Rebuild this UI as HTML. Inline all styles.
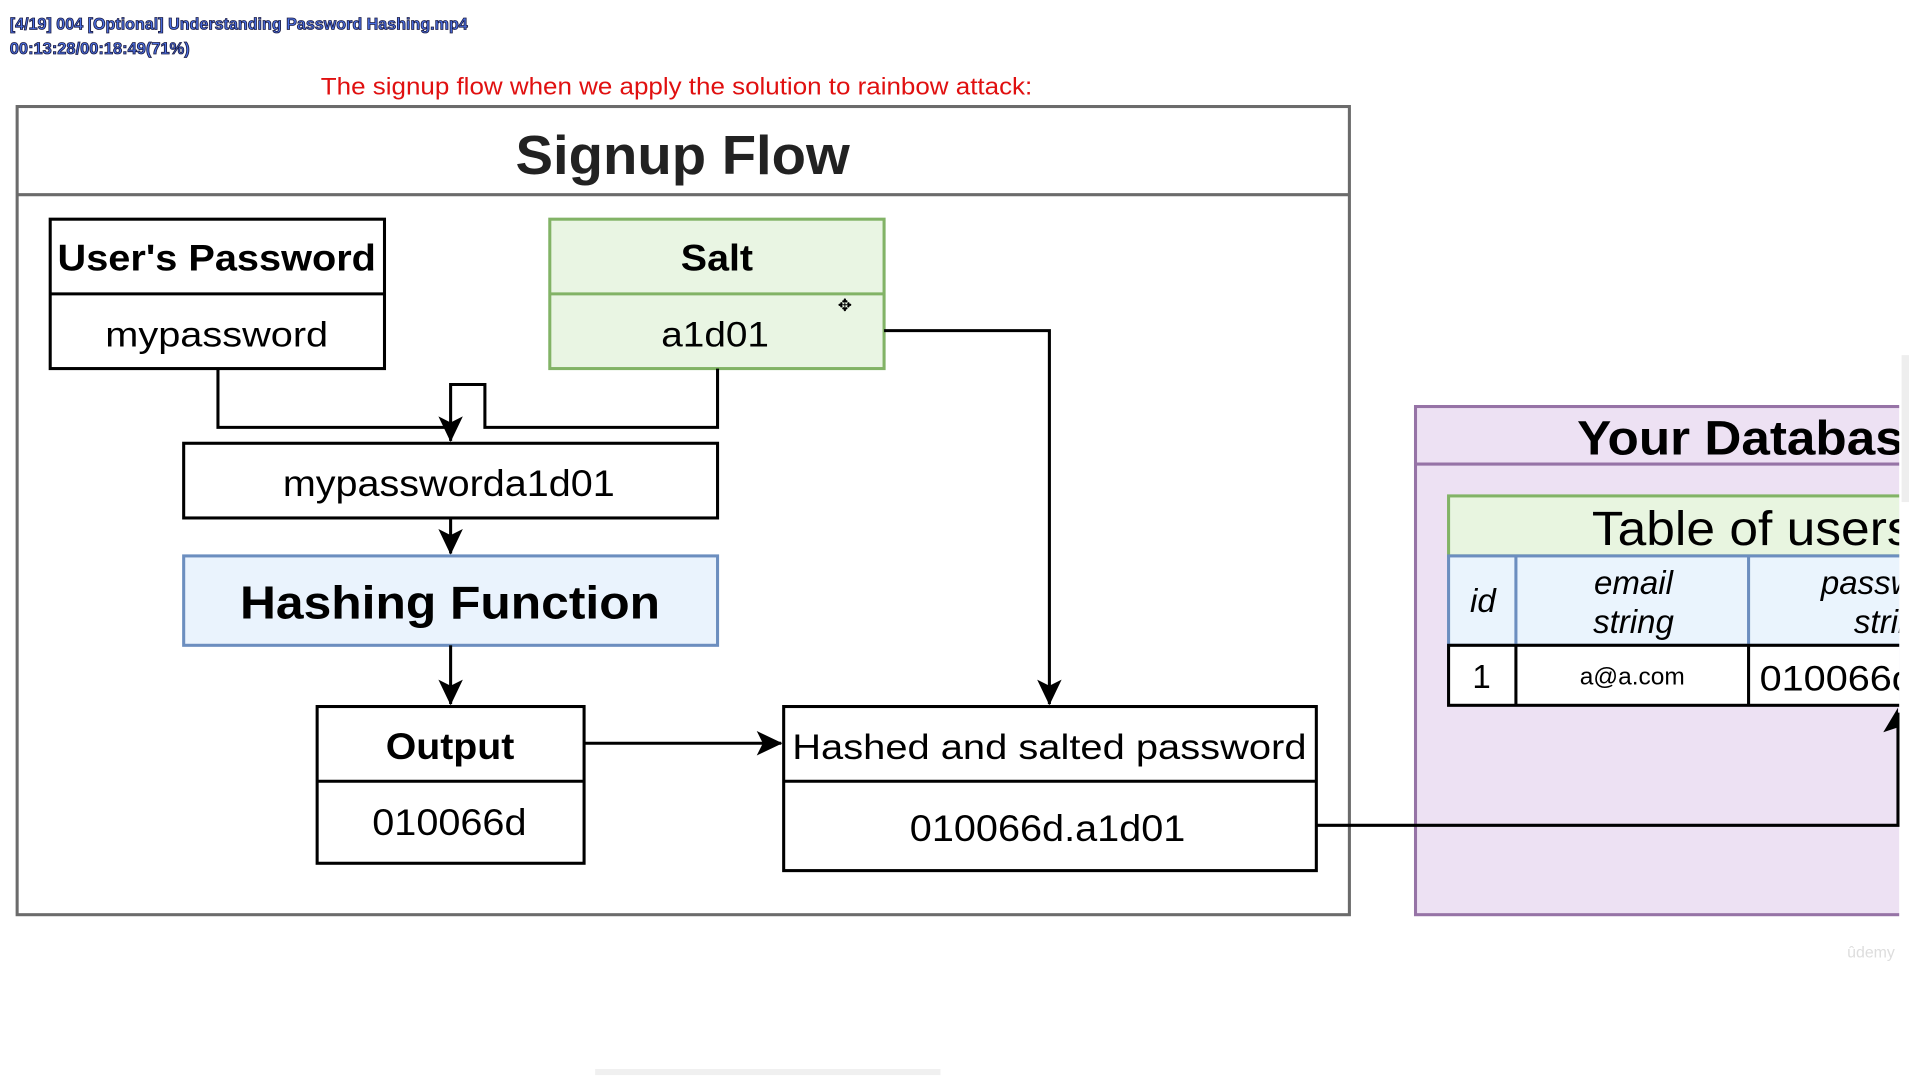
<!DOCTYPE html>
<html><head><meta charset="utf-8"><style>
html,body{margin:0;padding:0;background:#fff;width:1920px;height:1080px;overflow:hidden}
svg{display:block}
text{font-family:"Liberation Sans",Arial,sans-serif}
</style></head><body>
<svg width="1920" height="1080" viewBox="0 0 1568 882" preserveAspectRatio="none" xmlns="http://www.w3.org/2000/svg">
<defs>
<marker id="b" markerWidth="22" markerHeight="22" refX="20" refY="11" orient="auto" markerUnits="userSpaceOnUse"><path d="M0,1 L21,11 L0,21 L5,11 z" fill="#000"/></marker>
<clipPath id="c"><rect x="0" y="0" width="1551" height="882"/></clipPath>
</defs>
<text x="8" y="24" font-size="13.5" font-weight="bold" fill="#4a6ee0" stroke="#1a1a40" stroke-width="0.7" textLength="374" lengthAdjust="spacingAndGlyphs">[4/19] 004 [Optional] Understanding Password Hashing.mp4</text>
<text x="8" y="44" font-size="13.5" font-weight="bold" fill="#4a6ee0" stroke="#1a1a40" stroke-width="0.7" textLength="147" lengthAdjust="spacingAndGlyphs">00:13:28/00:18:49(71%)</text>
<text x="262" y="77" font-size="20" fill="#e01010" textLength="581" lengthAdjust="spacingAndGlyphs">The signup flow when we apply the solution to rainbow attack:</text>

<rect x="14" y="87" width="1088" height="660" fill="#fff" stroke="#6b6b6b" stroke-width="2.5"/>
<line x1="14" y1="159" x2="1102" y2="159" stroke="#6b6b6b" stroke-width="2.5"/>
<text x="421" y="142" font-size="45" font-weight="bold" fill="#222" textLength="273" lengthAdjust="spacingAndGlyphs">Signup Flow</text>

<rect x="41" y="179" width="273" height="122" fill="#fff" stroke="#000" stroke-width="2.5"/>
<line x1="41" y1="240" x2="314" y2="240" stroke="#000" stroke-width="2.5"/>
<text x="47" y="221" font-size="30" font-weight="bold" textLength="260" lengthAdjust="spacingAndGlyphs">User's Password</text>
<text x="86" y="283" font-size="29" textLength="182" lengthAdjust="spacingAndGlyphs">mypassword</text>

<rect x="449" y="179" width="273" height="122" fill="#e9f5e3" stroke="#82b366" stroke-width="2.5"/>
<line x1="449" y1="240" x2="722" y2="240" stroke="#82b366" stroke-width="2.5"/>
<text x="556" y="221" font-size="30" font-weight="bold" textLength="59" lengthAdjust="spacingAndGlyphs">Salt</text>
<text x="540" y="283" font-size="29" textLength="88" lengthAdjust="spacingAndGlyphs">a1d01</text>
<text x="690" y="254" font-size="14" text-anchor="middle">✥</text>

<path d="M178,301 V349 H368 V360" fill="none" stroke="#000" stroke-width="2.5" marker-end="url(#b)"/>
<path d="M586,301 V349 H396 V314 H368 V349" fill="none" stroke="#000" stroke-width="2.5"/>

<rect x="150" y="362" width="436" height="61" fill="#fff" stroke="#000" stroke-width="2.5"/>
<text x="231" y="405" font-size="30" textLength="271" lengthAdjust="spacingAndGlyphs">mypassworda1d01</text>
<path d="M368,423 V452" fill="none" stroke="#000" stroke-width="2.5" marker-end="url(#b)"/>

<rect x="150" y="454" width="436" height="73" fill="#eaf3fd" stroke="#6c8ebf" stroke-width="2.5"/>
<text x="196" y="505" font-size="38" font-weight="bold" textLength="343" lengthAdjust="spacingAndGlyphs">Hashing Function</text>
<path d="M368,527 V575" fill="none" stroke="#000" stroke-width="2.5" marker-end="url(#b)"/>

<rect x="259" y="577" width="218" height="128" fill="#fff" stroke="#000" stroke-width="2.5"/>
<line x1="259" y1="638" x2="477" y2="638" stroke="#000" stroke-width="2.5"/>
<text x="315" y="620" font-size="30" font-weight="bold" textLength="105" lengthAdjust="spacingAndGlyphs">Output</text>
<text x="304" y="682" font-size="30" textLength="126" lengthAdjust="spacingAndGlyphs">010066d</text>
<path d="M477,607 H638" fill="none" stroke="#000" stroke-width="2.5" marker-end="url(#b)"/>

<path d="M722,270 H857 V575" fill="none" stroke="#000" stroke-width="2.5" marker-end="url(#b)"/>

<rect x="640" y="577" width="435" height="134" fill="#fff" stroke="#000" stroke-width="2.5"/>
<line x1="640" y1="638" x2="1075" y2="638" stroke="#000" stroke-width="2.5"/>
<text x="647" y="620" font-size="29" textLength="420" lengthAdjust="spacingAndGlyphs">Hashed and salted password</text>
<text x="743" y="687" font-size="30" textLength="225" lengthAdjust="spacingAndGlyphs">010066d.a1d01</text>

<g clip-path="url(#c)">
<rect x="1156" y="332" width="420" height="415" fill="#ede1f3" stroke="#9673a6" stroke-width="2.5"/>
<line x1="1156" y1="379" x2="1576" y2="379" stroke="#9673a6" stroke-width="2.5"/>
<text x="1288" y="371" font-size="39" font-weight="bold" textLength="290" lengthAdjust="spacingAndGlyphs">Your Database</text>
<rect x="1183" y="405" width="420" height="49" fill="#e8f5e0" stroke="#82b366" stroke-width="2.5"/>
<text x="1300" y="445" font-size="39" textLength="262" lengthAdjust="spacingAndGlyphs">Table of users</text>
<rect x="1183" y="454" width="420" height="73" fill="#eaf4fd" stroke="#6c8ebf" stroke-width="2.5"/>
<line x1="1238" y1="454" x2="1238" y2="527" stroke="#6c8ebf" stroke-width="2.5"/>
<line x1="1428" y1="454" x2="1428" y2="527" stroke="#6c8ebf" stroke-width="2.5"/>
<text x="1211" y="500" font-size="27" font-style="italic" text-anchor="middle">id</text>
<text x="1334" y="485" font-size="27" font-style="italic" text-anchor="middle">email</text>
<text x="1334" y="517" font-size="27" font-style="italic" text-anchor="middle">string</text>
<text x="1487" y="485" font-size="27" font-style="italic">password</text>
<text x="1514" y="517" font-size="27" font-style="italic">string</text>
<rect x="1183" y="527" width="420" height="49" fill="#fff" stroke="#000" stroke-width="2.5"/>
<line x1="1238" y1="527" x2="1238" y2="576" stroke="#000" stroke-width="2.5"/>
<line x1="1428" y1="527" x2="1428" y2="576" stroke="#000" stroke-width="2.5"/>
<text x="1210" y="562" font-size="27" text-anchor="middle">1</text>
<text x="1333" y="559" font-size="20" text-anchor="middle">a@a.com</text>
<text x="1437" y="564" font-size="29" textLength="126" lengthAdjust="spacingAndGlyphs">010066d</text>
</g>
<path d="M1075,674 H1550 V582" fill="none" stroke="#000" stroke-width="2.5"/>
<path d="M1550,578 L1538,598 L1550,594 z" fill="#000"/>
<rect x="1553" y="290" width="6" height="120" fill="#eee"/>
<text x="1528" y="782" font-size="13" fill="#ddd" text-anchor="middle">ûdemy</text>
<rect x="486" y="873" width="282" height="5" fill="#f0f0f0"/>
</svg>
</body></html>
